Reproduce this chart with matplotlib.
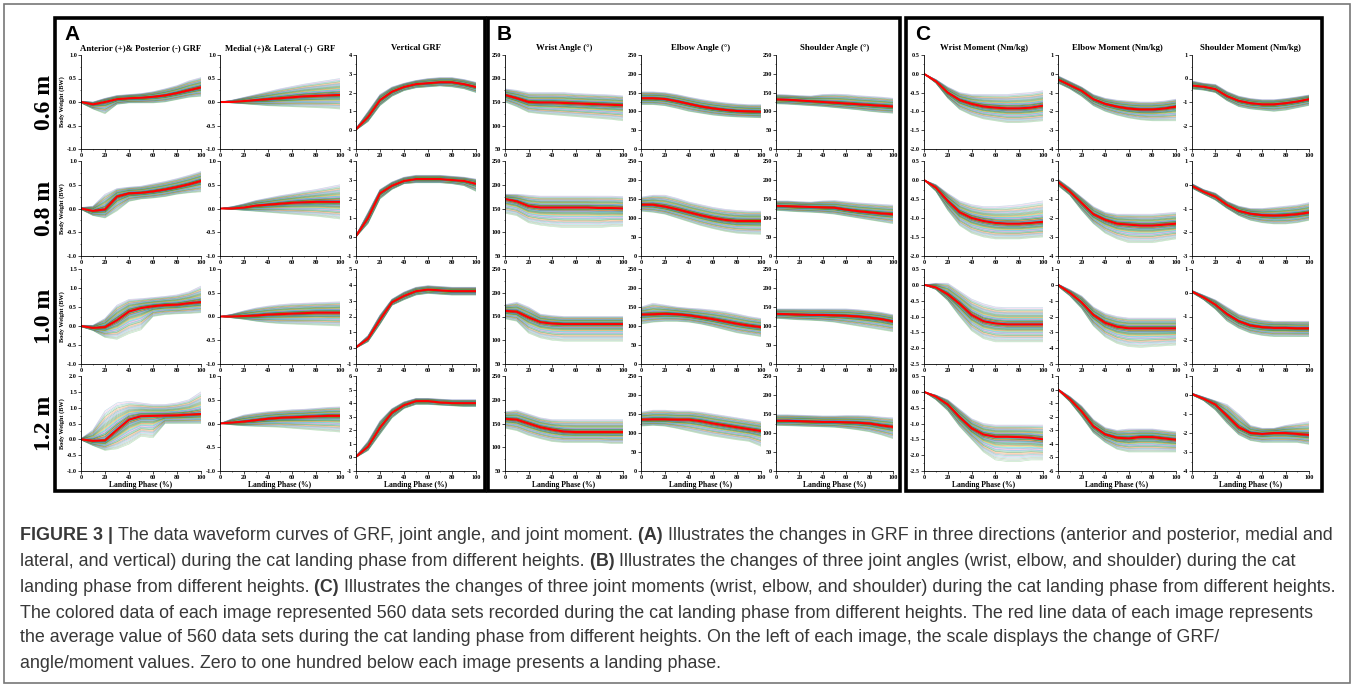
import numpy as np
import matplotlib
matplotlib.use("Agg")
import matplotlib.pyplot as plt
from matplotlib.patches import Rectangle
from matplotlib.ticker import AutoMinorLocator, MultipleLocator, FormatStrFormatter

# landing phase sample points (%)
phase = [0, 10, 20, 30, 40, 50, 60, 70, 80, 90, 100]
heights = ["0.6 m", "0.8 m", "1.0 m", "1.2 m"]

# ---- Panel A : GRF (body weight), one row per height ----
ap_mean = [[0, -0.05, 0.0, 0.06, 0.08, 0.09, 0.11, 0.14, 0.19, 0.25, 0.31],
           [0, -0.05, -0.02, 0.25, 0.32, 0.33, 0.36, 0.40, 0.45, 0.51, 0.58],
           [0, -0.05, -0.03, 0.15, 0.38, 0.47, 0.52, 0.55, 0.56, 0.60, 0.63],
           [0, -0.05, -0.03, 0.30, 0.62, 0.73, 0.74, 0.75, 0.76, 0.78, 0.80]]
ap_hi = [[0.02, 0.0, 0.08, 0.14, 0.16, 0.18, 0.22, 0.28, 0.35, 0.45, 0.52],
         [0.02, 0.05, 0.30, 0.42, 0.45, 0.47, 0.52, 0.57, 0.63, 0.70, 0.78],
         [0.02, 0.02, 0.20, 0.55, 0.70, 0.72, 0.75, 0.78, 0.82, 0.90, 1.05],
         [0.02, 0.30, 0.90, 1.15, 1.20, 1.15, 1.10, 1.10, 1.15, 1.25, 1.50]]
ap_lo = [[-0.02, -0.15, -0.25, -0.05, -0.02, -0.02, -0.02, 0.0, 0.05, 0.10, 0.12],
         [-0.02, -0.15, -0.20, -0.05, 0.15, 0.20, 0.22, 0.25, 0.30, 0.33, 0.35],
         [-0.02, -0.12, -0.30, -0.35, -0.20, -0.10, 0.25, 0.30, 0.32, 0.33, 0.35],
         [-0.02, -0.20, -0.35, -0.30, -0.15, 0.10, 0.05, 0.50, 0.50, 0.50, 0.50]]

ml_mean = [[0, 0, 0.02, 0.04, 0.06, 0.08, 0.10, 0.12, 0.13, 0.14, 0.15],
           [0, 0, 0.02, 0.06, 0.08, 0.10, 0.12, 0.13, 0.14, 0.14, 0.14],
           [0, 0, 0.01, 0.02, 0.04, 0.05, 0.06, 0.07, 0.08, 0.08, 0.08],
           [0, 0.02, 0.04, 0.07, 0.10, 0.12, 0.13, 0.14, 0.15, 0.16, 0.16]]
ml_hi = [[0, 0.04, 0.10, 0.16, 0.22, 0.28, 0.33, 0.38, 0.42, 0.46, 0.50],
         [0, 0.04, 0.10, 0.17, 0.22, 0.27, 0.31, 0.36, 0.40, 0.45, 0.50],
         [0, 0.05, 0.12, 0.18, 0.22, 0.25, 0.27, 0.28, 0.29, 0.30, 0.31],
         [0, 0.10, 0.18, 0.22, 0.25, 0.27, 0.29, 0.30, 0.32, 0.34, 0.35]]
ml_lo = [[0, -0.02, -0.04, -0.06, -0.08, -0.09, -0.10, -0.11, -0.12, -0.13, -0.15],
         [0, -0.02, -0.04, -0.06, -0.08, -0.10, -0.12, -0.14, -0.16, -0.19, -0.22],
         [0, -0.03, -0.06, -0.10, -0.13, -0.15, -0.16, -0.17, -0.18, -0.19, -0.20],
         [0, -0.03, -0.05, -0.06, -0.07, -0.08, -0.10, -0.12, -0.14, -0.16, -0.18]]

vt_mean = [[0.05, 0.7, 1.6, 2.05, 2.3, 2.45, 2.5, 2.55, 2.55, 2.45, 2.3],
           [0.05, 1.0, 2.3, 2.7, 2.95, 3.05, 3.05, 3.05, 3.0, 2.95, 2.8],
           [0.05, 0.6, 1.8, 2.9, 3.3, 3.6, 3.7, 3.65, 3.6, 3.6, 3.6],
           [0.05, 0.8, 2.2, 3.3, 3.85, 4.15, 4.15, 4.05, 4.0, 4.0, 4.0]]
vt_hi = [[0.1, 1.0, 1.9, 2.3, 2.5, 2.65, 2.75, 2.8, 2.8, 2.7, 2.55],
         [0.1, 1.3, 2.5, 2.9, 3.15, 3.25, 3.25, 3.25, 3.2, 3.15, 3.05],
         [0.1, 0.8, 2.1, 3.1, 3.55, 3.85, 3.95, 3.9, 3.85, 3.85, 3.85],
         [0.1, 1.2, 2.7, 3.6, 4.1, 4.35, 4.35, 4.3, 4.25, 4.25, 4.25]]
vt_lo = [[0.0, 0.45, 1.3, 1.8, 2.1, 2.25, 2.3, 2.35, 2.3, 2.2, 2.0],
         [0.0, 0.7, 2.0, 2.5, 2.8, 2.85, 2.85, 2.85, 2.8, 2.7, 2.4],
         [0.0, 0.4, 1.5, 2.7, 3.05, 3.35, 3.45, 3.4, 3.35, 3.35, 3.35],
         [0.0, 0.5, 1.7, 2.9, 3.6, 3.9, 3.9, 3.85, 3.8, 3.75, 3.75]]

# ---- Panel B : joint angles (deg) ----
wa_mean = [[165, 158, 150, 149, 149, 148, 147, 146, 145, 144, 143],
           [170, 165, 155, 152, 152, 152, 152, 152, 151, 151, 150],
           [162, 160, 148, 138, 135, 134, 134, 134, 134, 134, 134],
           [160, 158, 150, 142, 137, 133, 132, 132, 132, 132, 132]]
wa_hi = [[178, 175, 170, 170, 170, 170, 168, 167, 166, 165, 163],
         [180, 180, 178, 176, 176, 176, 176, 176, 176, 176, 175],
         [175, 180, 170, 155, 152, 150, 150, 150, 150, 150, 150],
         [175, 178, 170, 162, 158, 158, 158, 158, 158, 158, 158]]
wa_lo = [[150, 140, 128, 125, 123, 121, 119, 117, 115, 113, 110],
         [140, 135, 120, 115, 112, 110, 110, 110, 110, 112, 113],
         [145, 140, 115, 105, 100, 98, 98, 98, 98, 98, 98],
         [140, 135, 125, 118, 112, 110, 110, 110, 110, 108, 108]]

ea_mean = [[135, 135, 133, 127, 120, 113, 108, 104, 101, 100, 99],
           [135, 135, 130, 123, 115, 107, 100, 95, 92, 92, 92],
           [130, 131, 132, 131, 128, 123, 118, 112, 106, 101, 97],
           [135, 136, 136, 135, 135, 131, 125, 120, 115, 110, 105]]
ea_hi = [[152, 152, 150, 145, 138, 132, 127, 123, 120, 118, 118],
         [155, 160, 160, 152, 142, 135, 128, 123, 120, 118, 118],
         [150, 160, 155, 150, 147, 145, 142, 138, 132, 125, 120],
         [155, 160, 160, 158, 158, 155, 150, 145, 140, 135, 130]]
ea_lo = [[118, 118, 115, 108, 100, 95, 90, 87, 85, 84, 83],
         [118, 115, 110, 100, 90, 80, 72, 65, 60, 58, 57],
         [105, 110, 112, 112, 110, 105, 98, 90, 82, 77, 72],
         [118, 120, 118, 112, 105, 98, 92, 87, 82, 78, 65]]

sa_mean = [[132, 131, 129, 127, 125, 123, 121, 119, 117, 115, 113],
           [132, 131, 130, 129, 128, 127, 122, 118, 115, 112, 110],
           [132, 131, 130, 129, 129, 128, 127, 125, 122, 118, 112],
           [132, 132, 131, 130, 129, 129, 128, 127, 125, 120, 116]]
sa_hi = [[145, 144, 142, 141, 145, 146, 145, 142, 140, 138, 135],
         [145, 145, 143, 142, 145, 146, 143, 140, 138, 136, 134],
         [145, 145, 145, 145, 145, 145, 145, 143, 140, 136, 130],
         [148, 148, 147, 146, 145, 145, 146, 146, 145, 142, 140]]
sa_lo = [[120, 119, 117, 115, 113, 110, 107, 104, 100, 97, 95],
         [120, 118, 116, 115, 113, 110, 105, 100, 95, 90, 85],
         [120, 118, 116, 115, 113, 110, 105, 100, 95, 90, 85],
         [120, 119, 118, 117, 116, 115, 112, 108, 103, 95, 85]]

# ---- Panel C : joint moments (Nm/kg) ----
wm_mean = [[0, -0.2, -0.5, -0.7, -0.8, -0.87, -0.9, -0.92, -0.92, -0.9, -0.85],
           [0, -0.2, -0.55, -0.85, -1.0, -1.08, -1.13, -1.15, -1.15, -1.13, -1.1],
           [0, -0.08, -0.3, -0.6, -0.95, -1.15, -1.22, -1.25, -1.25, -1.25, -1.25],
           [0, -0.15, -0.4, -0.8, -1.15, -1.35, -1.42, -1.42, -1.43, -1.45, -1.5]]
wm_hi = [[0, -0.15, -0.35, -0.5, -0.55, -0.55, -0.55, -0.55, -0.52, -0.5, -0.45],
         [0, -0.12, -0.35, -0.55, -0.65, -0.7, -0.7, -0.68, -0.65, -0.6, -0.55],
         [0, 0.05, 0.05, -0.2, -0.45, -0.6, -0.7, -0.72, -0.72, -0.72, -0.72],
         [0, -0.1, -0.25, -0.55, -0.85, -1.0, -1.05, -1.05, -1.05, -1.05, -1.05]]
wm_lo = [[0, -0.25, -0.65, -0.95, -1.1, -1.2, -1.25, -1.3, -1.3, -1.28, -1.25],
         [0, -0.3, -0.8, -1.2, -1.4, -1.5, -1.55, -1.55, -1.55, -1.52, -1.5],
         [0, -0.15, -0.5, -1.0, -1.45, -1.7, -1.8, -1.8, -1.8, -1.8, -1.8],
         [0, -0.25, -0.6, -1.1, -1.5, -1.9, -2.15, -2.2, -2.2, -2.15, -2.15]]

em_mean = [[-0.3, -0.6, -0.9, -1.35, -1.6, -1.75, -1.85, -1.9, -1.9, -1.85, -1.75],
           [-0.1, -0.6, -1.2, -1.8, -2.1, -2.3, -2.35, -2.4, -2.4, -2.35, -2.3],
           [0, -0.5, -1.1, -1.9, -2.4, -2.65, -2.75, -2.75, -2.75, -2.75, -2.75],
           [0, -0.7, -1.6, -2.7, -3.3, -3.55, -3.6, -3.5, -3.5, -3.6, -3.7]]
em_hi = [[-0.1, -0.4, -0.7, -1.1, -1.3, -1.4, -1.45, -1.5, -1.5, -1.45, -1.35],
         [0.05, -0.4, -0.9, -1.4, -1.7, -1.8, -1.8, -1.8, -1.8, -1.75, -1.7],
         [0.05, -0.3, -0.7, -1.4, -1.8, -2.0, -2.1, -2.1, -2.1, -2.1, -2.1],
         [0.05, -0.5, -1.2, -2.2, -2.8, -3.0, -2.9, -2.9, -2.9, -3.0, -3.1]]
em_lo = [[-0.5, -0.8, -1.2, -1.7, -2.0, -2.2, -2.35, -2.45, -2.5, -2.5, -2.5],
         [-0.3, -0.8, -1.6, -2.3, -2.8, -3.1, -3.3, -3.3, -3.3, -3.2, -3.1],
         [-0.1, -0.7, -1.5, -2.6, -3.3, -3.7, -3.9, -3.95, -3.9, -3.85, -3.8],
         [-0.05, -0.9, -2.0, -3.2, -3.9, -4.4, -4.6, -4.6, -4.6, -4.6, -4.6]]

sm_mean = [[-0.3, -0.35, -0.45, -0.75, -0.95, -1.05, -1.1, -1.1, -1.05, -0.98, -0.88],
           [-0.05, -0.3, -0.5, -0.85, -1.1, -1.22, -1.28, -1.3, -1.28, -1.24, -1.17],
           [0.05, -0.2, -0.5, -0.9, -1.2, -1.38, -1.45, -1.48, -1.48, -1.5, -1.5],
           [0.05, -0.2, -0.5, -1.1, -1.7, -2.0, -2.05, -2.0, -2.0, -2.05, -2.1]]
sm_hi = [[-0.1, -0.2, -0.25, -0.55, -0.75, -0.85, -0.9, -0.9, -0.85, -0.78, -0.7],
         [0.05, -0.2, -0.35, -0.7, -0.9, -1.0, -1.0, -0.95, -0.9, -0.85, -0.75],
         [0.1, -0.1, -0.3, -0.6, -0.9, -1.05, -1.15, -1.2, -1.2, -1.2, -1.2],
         [0.1, -0.1, -0.3, -0.5, -1.0, -1.6, -1.75, -1.75, -1.6, -1.5, -1.4]]
sm_lo = [[-0.45, -0.5, -0.6, -0.95, -1.2, -1.3, -1.35, -1.4, -1.35, -1.25, -1.15],
         [-0.15, -0.4, -0.65, -1.0, -1.3, -1.5, -1.6, -1.65, -1.65, -1.6, -1.5],
         [0, -0.3, -0.7, -1.2, -1.5, -1.7, -1.8, -1.85, -1.85, -1.85, -1.85],
         [0, -0.3, -0.8, -1.5, -2.1, -2.4, -2.5, -2.5, -2.5, -2.5, -2.6]]

# axis ranges per column (one per height row)
ylims = {
    "ap": [(-1, 1), (-1, 1), (-1, 1.5), (-1, 2)],
    "ml": [(-1, 1)] * 4,
    "vt": [(-1, 4), (-1, 4), (-1, 5), (-1, 6)],
    "wa": [(50, 250)] * 4,
    "ea": [(0, 250)] * 4,
    "sa": [(0, 250)] * 4,
    "wm": [(-2, 0.5), (-2, 0.5), (-2.5, 0.5), (-2.5, 0.5)],
    "em": [(-4, 1), (-4, 1), (-5, 1), (-6, 1)],
    "sm": [(-3, 1), (-3, 1), (-3, 1), (-4, 1)],
}

W, H = 1354, 685
fig = plt.figure(figsize=(W / 100, H / 100), dpi=100)
fig.patch.set_facecolor("white")

SERIF = "Liberation Serif"
SANS = "Liberation Sans"

band_colors = ["#2ca02c", "#17becf", "#1f77b4", "#ff7f0e", "#9467bd", "#2e8b57",
               "#bcbd22", "#e377c2", "#006400", "#008b8b", "#556b2f", "#d2691e",
               "#4682b4", "#3cb371", "#8c564b", "#20b2aa"]


def px_axes(x0, y0, x1, y1):
    return fig.add_axes([x0 / W, 1 - y1 / H, (x1 - x0) / W, (y1 - y0) / H])


def draw_cell(ax, mean, hi, lo, lim, step, fmt):
    mean, hi, lo = np.array(mean), np.array(hi), np.array(lo)
    # bundle of individual trials rendered as a dense spread inside the envelope
    fr = np.linspace(-1, 1, 61)
    fr = np.sign(fr) * np.abs(fr) ** 1.5
    for i, f in enumerate(fr):
        y = mean + f * (hi - mean) if f >= 0 else mean - f * (lo - mean)
        ax.plot(phase, y, color=band_colors[(i * 5) % len(band_colors)], lw=0.45,
                alpha=0.85 - 0.55 * abs(f))
    ax.plot(phase, mean, color="#ff0000", lw=1.5)
    ax.set_xlim(0, 100)
    ax.set_ylim(*lim)
    ax.xaxis.set_major_locator(MultipleLocator(20))
    ax.yaxis.set_major_locator(MultipleLocator(step))
    ax.yaxis.set_major_formatter(FormatStrFormatter(fmt))
    ax.xaxis.set_minor_locator(AutoMinorLocator(2))
    ax.yaxis.set_minor_locator(AutoMinorLocator(2))
    for s in ["top", "right"]:
        ax.spines[s].set_visible(False)
    for s in ["left", "bottom"]:
        ax.spines[s].set_linewidth(0.6)
    ax.tick_params(which="major", length=2, width=0.5, labelsize=4.5, pad=1)
    ax.tick_params(which="minor", length=1, width=0.4)
    for lab in ax.get_xticklabels() + ax.get_yticklabels():
        lab.set_family(SERIF)
        lab.set_fontweight("bold")
    ax.patch.set_alpha(0)


rows = [(55, 149), (161, 256), (269, 364), (376, 471)]
panels = [
    ("A", (55, 18, 485, 491), [(81, 201), (220, 340), (356, 476)],
     ["Anterior (+)& Posterior (-) GRF", "Medial (+)& Lateral (-)  GRF", "Vertical GRF"],
     [("ap", ap_mean, ap_hi, ap_lo, 0.5, "%.1f"),
      ("ml", ml_mean, ml_hi, ml_lo, 0.5, "%.1f"),
      ("vt", vt_mean, vt_hi, vt_lo, 1, "%d")]),
    ("B", (488, 18, 900, 491), [(505, 623), (641, 761), (776, 893)],
     ["Wrist Angle (°)", "Elbow Angle (°)", "Shoulder Angle (°)"],
     [("wa", wa_mean, wa_hi, wa_lo, 50, "%d"),
      ("ea", ea_mean, ea_hi, ea_lo, 50, "%d"),
      ("sa", sa_mean, sa_hi, sa_lo, 50, "%d")]),
    ("C", (906, 18, 1322, 491), [(924, 1043), (1058, 1176), (1192, 1309)],
     ["Wrist Moment (Nm/kg)", "Elbow Moment (Nm/kg)", "Shoulder Moment (Nm/kg)"],
     [("wm", wm_mean, wm_hi, wm_lo, 0.5, "%.1f"),
      ("em", em_mean, em_hi, em_lo, 1, "%d"),
      ("sm", sm_mean, sm_hi, sm_lo, 1, "%d")]),
]

for letter, box, cols, titles, series in panels:
    bx0, by0, bx1, by1 = box
    fig.add_artist(Rectangle((bx0 / W, 1 - by1 / H), (bx1 - bx0) / W, (by1 - by0) / H,
                             transform=fig.transFigure, fill=False, ec="black", lw=2.6))
    fig.text((bx0 + 9) / W, 1 - 34 / H, letter, fontsize=15, fontweight="bold",
             family=SANS, va="center", ha="left")
    for c, ((x0, x1), title, (key, mean, hi, lo, step, fmt)) in enumerate(zip(cols, titles, series)):
        fig.text((x0 + x1) / 2 / W, 1 - 48 / H, title, fontsize=6.3, fontweight="bold",
                 family=SERIF, ha="center", va="center")
        fig.text((x0 + x1) / 2 / W, 1 - 485 / H, "Landing Phase (%)", fontsize=5.5,
                 fontweight="bold", family=SERIF, ha="center", va="center")
        for r, (y0, y1) in enumerate(rows):
            ax = px_axes(x0, y0, x1, y1)
            draw_cell(ax, mean[r], hi[r], lo[r], ylims[key][r], step, fmt)
            if letter == "A" and c == 0:
                fig.text(62 / W, 1 - (y0 + y1) / 2 / H, "Body Weight (BW)", rotation=90,
                         fontsize=4.5, fontweight="bold", family=SERIF, ha="center", va="center")

for r, (y0, y1) in enumerate(rows):
    fig.text(45 / W, 1 - (y0 + y1) / 2 / H, heights[r], rotation=90, fontsize=17,
             fontweight="bold", family=SERIF, ha="center", va="center")

# outer grey frame
fig.add_artist(Rectangle((4 / W, 1 - 683 / H), 1346 / W, 679 / H, transform=fig.transFigure,
                         fill=False, ec="#777777", lw=1.2))

# caption
caption = [
    [("FIGURE 3 | ", True), ("The data waveform curves of GRF, joint angle, and joint moment. ", False),
     ("(A) ", True), ("Illustrates the changes in GRF in three directions (anterior and posterior, medial and", False)],
    [("lateral, and vertical) during the cat landing phase from different heights. ", False), ("(B) ", True),
     ("Illustrates the changes of three joint angles (wrist, elbow, and shoulder) during the cat", False)],
    [("landing phase from different heights. ", False), ("(C) ", True),
     ("Illustrates the changes of three joint moments (wrist, elbow, and shoulder) during the cat landing phase from different heights.", False)],
    [("The colored data of each image represented 560 data sets recorded during the cat landing phase from different heights. The red line data of each image represents", False)],
    [("the average value of 560 data sets during the cat landing phase from different heights. On the left of each image, the scale displays the change of GRF/", False)],
    [("angle/moment values. Zero to one hundred below each image presents a landing phase.", False)],
]
cap_y = [536, 562, 587, 613, 638, 664]
renderer = fig.canvas.get_renderer()
for parts, y in zip(caption, cap_y):
    x = 20
    for txt, bold in parts:
        t = fig.text(x / W, 1 - y / H, txt, fontsize=12.85, family=SANS,
                     fontweight="bold" if bold else "normal", color="#383838",
                     ha="left", va="center")
        x += t.get_window_extent(renderer).width

fig.savefig("out.png", dpi=100)
